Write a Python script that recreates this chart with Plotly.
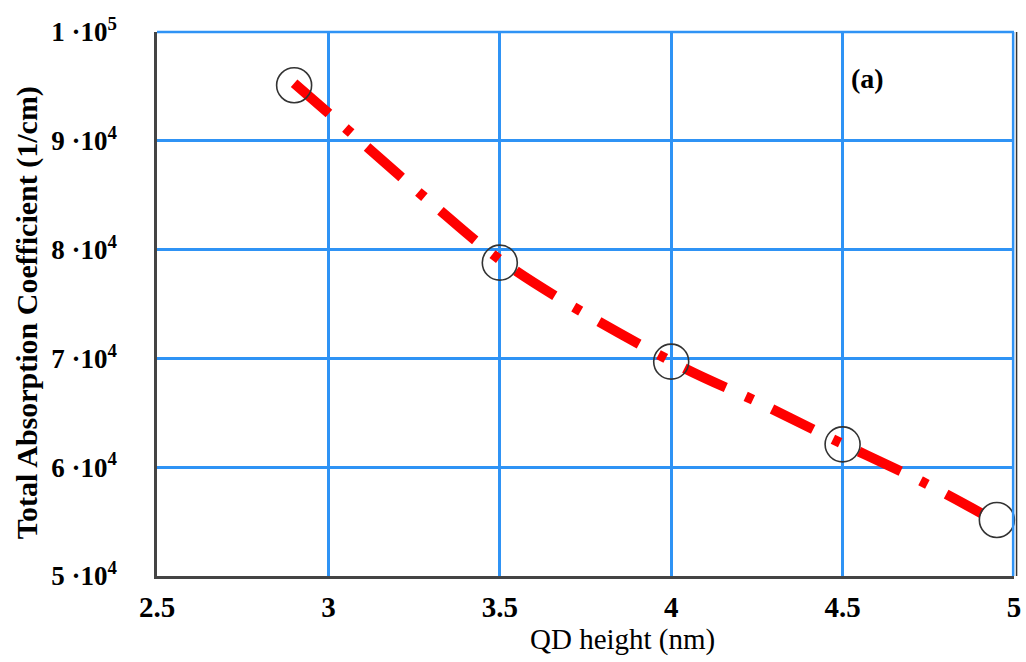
import plotly.graph_objects as go

# measured points (open circles)
qd_height = [2.9, 3.5, 4.0, 4.5, 4.95]
absorption = [95100, 78800, 69700, 62100, 55150]

# fitted curve (red dash-dot)
fit_x = [2.9, 3.056, 3.296, 3.535, 4.014, 4.252, 4.49, 4.73, 4.905]
fit_y = [95300, 91000, 84400, 78300, 69500, 66000, 62300, 58700, 55760]

x_ticks = [2.5, 3, 3.5, 4, 4.5, 5]
x_ticktext = ["2.5", "3", "3.5", "4", "4.5", "5"]
y_ticks = [50000, 60000, 70000, 80000, 90000, 100000]
y_ticktext = ["5 ·10<sup>4</sup>", "6 ·10<sup>4</sup>", "7 ·10<sup>4</sup>",
              "8 ·10<sup>4</sup>", "9 ·10<sup>4</sup>", "1 ·10<sup>5</sup>"]

serif = "Liberation Serif, Times New Roman, serif"
grid_blue = "#2f93f5"

fig = go.Figure()
fig.add_trace(go.Scatter(
    x=fit_x, y=fit_y, mode="lines", line_shape="spline",
    line=dict(color="#ff0000", width=10, dash="46px,22px,8px,21px"),
    hoverinfo="skip", showlegend=False))
fig.add_trace(go.Scatter(
    x=qd_height, y=absorption, mode="markers",
    marker=dict(symbol="circle-open", size=35, color="#333333",
                line=dict(width=1.6, color="#333333")),
    showlegend=False, cliponaxis=False))

fig.add_annotation(text="<b>(a)</b>", x=0.8296, y=0.915, xref="paper", yref="paper",
                   xanchor="center", yanchor="middle",
                   showarrow=False, font=dict(family=serif, size=28, color="black"))
# axis titles
fig.add_annotation(text="QD height (nm)", x=0.5426, y=-0.1176, xref="paper", yref="paper",
                   xanchor="center", yanchor="middle", showarrow=False,
                   font=dict(family=serif, size=29, color="black"))
fig.add_annotation(text="<b>Total Absorption Coefficient (1/cm)</b>", x=-0.1517, y=0.485,
                   xref="paper", yref="paper", xanchor="center", yanchor="middle",
                   textangle=-90, showarrow=False,
                   font=dict(family=serif, size=30, color="black"))

# top and right blue borders
fig.add_shape(type="line", xref="paper", yref="paper", x0=0, x1=1, y0=1, y1=1,
              line=dict(color=grid_blue, width=2.5))
fig.add_shape(type="line", xref="paper", yref="paper", x0=0.999, x1=0.999, y0=0, y1=1,
              line=dict(color=grid_blue, width=2.5))
fig.add_shape(type="line", xref="paper", yref="paper", x0=1.003, x1=1.003, y0=0, y1=1,
              line=dict(color="#333333", width=1.5))

fig.update_xaxes(
    range=[2.5, 5], tickvals=x_ticks, ticktext=x_ticktext, automargin=False,
    showgrid=True, gridcolor=grid_blue, gridwidth=2.5,
    showline=True, linecolor="#444444", linewidth=2.5,
    zeroline=False, ticks="", ticklabelstandoff=3,
    tickfont=dict(family=serif, size=29, color="black", weight="bold"))
fig.update_yaxes(
    range=[50000, 100000], tickvals=y_ticks, ticktext=y_ticktext, automargin=False,
    showgrid=True, gridcolor=grid_blue, gridwidth=2.5,
    showline=True, linecolor="#444444", linewidth=2.5,
    zeroline=False, ticks="", ticklabelstandoff=32,
    tickfont=dict(family=serif, size=27, color="black", weight="bold"))

fig.update_layout(
    width=1026, height=662,
    margin=dict(l=157, r=12, t=32, b=86),
    paper_bgcolor="white", plot_bgcolor="white",
)

fig.write_html("out.html")
